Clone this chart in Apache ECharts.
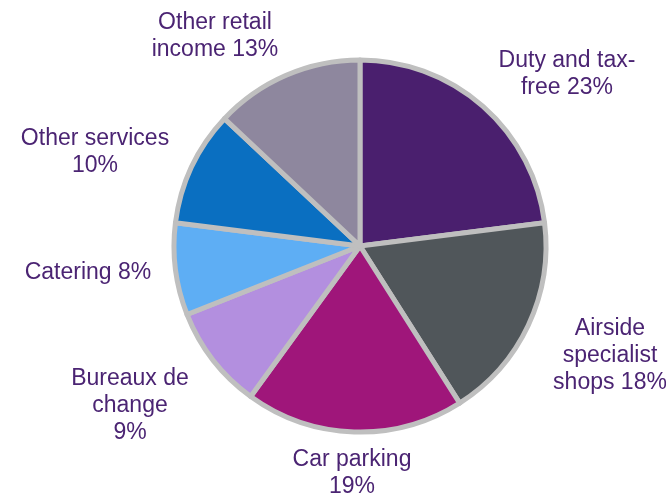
<!DOCTYPE html>
<html><head><meta charset="utf-8">
<script src="https://cdn.jsdelivr.net/npm/echarts@6/dist/echarts.min.js"></script>
<style>html,body{margin:0;padding:0;background:#fff}#c{width:666px;height:493px}</style>
</head><body><div id="c"></div>
<script>
const categories = ['Duty and tax-free','Airside specialist shops','Car parking','Bureaux de change','Catering','Other services','Other retail income'];
const values = [23, 18, 19, 9, 8, 10, 13];
const labelTexts = ['Duty and tax-\nfree 23%','Airside\nspecialist\nshops 18%','Car parking\n19%','Bureaux de\nchange\n9%','Catering 8%','Other services\n10%','Other retail\nincome 13%'];
const colors = ['#4a1f6e','#50565a','#9f167a','#b38fdf','#5eaef4','#0a6fc1','#8e879e'];
const labelCenters = [[567,74],[610,356],[352,473],[130,406],[88,273],[95,152],[215,36]];

const chart = echarts.init(document.getElementById('c'));
chart.setOption({
  animation:false,
  series:[{
    type:'pie',
    center:[360,246],
    radius:[0,186],
    startAngle:90,
    clockwise:true,
    itemStyle:{borderColor:'#bfbfbf',borderWidth:5},
    label:{show:true,position:'outside',color:'#4b2473',fontSize:23,lineHeight:27,fontFamily:'Liberation Sans, Arial, sans-serif',align:'center',overflow:'none',width:300,
      formatter:p=>labelTexts[p.dataIndex]},
    labelLine:{show:false},
    labelLayout:p=>({x:labelCenters[p.dataIndex][0],y:labelCenters[p.dataIndex][1],align:'center',verticalAlign:'middle',hideOverlap:false,moveOverlap:false}),
    data:categories.map((n,i)=>({name:n,value:values[i],itemStyle:{color:colors[i]}}))
  }]
});
</script></body></html>
